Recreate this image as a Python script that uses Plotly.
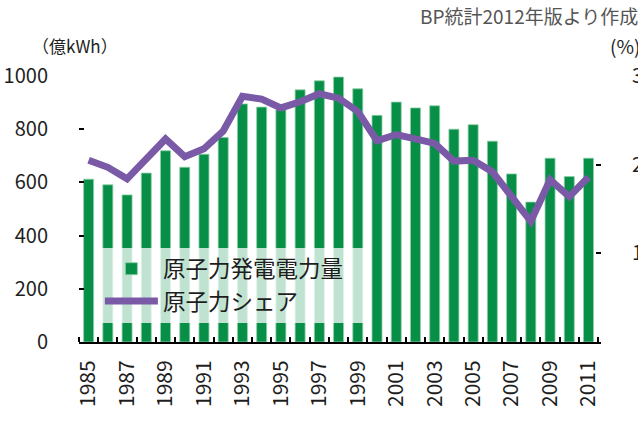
import plotly.graph_objects as go

years = list(range(1985, 2012))
generation = [612, 591, 553, 635, 719, 657, 706, 769, 895, 883,
              873, 948, 982, 996, 952, 852, 902, 880, 888, 800,
              817, 755, 632, 526, 691, 622, 691]
share = [2.05, 1.97, 1.84, 2.06, 2.29, 2.09, 2.18, 2.38, 2.77, 2.74,
         2.64, 2.71, 2.80, 2.75, 2.60, 2.27, 2.34, 2.29, 2.24, 2.04,
         2.05, 1.92, 1.64, 1.36, 1.83, 1.64, 1.86]
xtick_years = list(range(1985, 2012, 2))
left_ticks = [0, 200, 400, 600, 800, 1000]
right_ticks = [1, 2, 3]

FONT = "Noto Sans CJK JP"
GREEN = "#078f47"
PURPLE = "#7a5aa7"
TXT = "#1e1e1e"

fig = go.Figure()
fig.add_trace(go.Bar(
    x=years, y=generation, name="原子力発電電力量\u3000",
    marker=dict(color=GREEN, line=dict(color="#8fcfa8", width=0.8)),
    width=0.52, yaxis="y",
))
fig.add_trace(go.Scatter(
    x=years, y=share, name="原子力シェア", mode="lines",
    line=dict(color=PURPLE, width=7), yaxis="y2",
))

fig.update_layout(
    template="none",
    width=638, height=427,
    margin=dict(l=79, r=37, t=76, b=85, autoexpand=False),
    paper_bgcolor="white", plot_bgcolor="white",
    font=dict(family=FONT, size=20, color=TXT),
    showlegend=True,
    legend=dict(
        x=0.04, y=0.355, xanchor="left", yanchor="top",
        bgcolor="rgba(255,255,255,0.75)", borderwidth=0,
        font=dict(size=22.5, color=TXT),
        itemwidth=53,
    ),
    xaxis=dict(
        automargin=False,
        range=[1984.5, 2011.65],
        tickmode="array", tickvals=xtick_years,
        ticktext=[str(y) for y in xtick_years],
        tickangle=-90, ticks="", ticklabelstandoff=8,
        showline=True, linecolor="black", linewidth=2,
        showgrid=False, zeroline=False,
        minor=dict(ticks="inside", tick0=1984.5, dtick=1, ticklen=5,
                   tickcolor="black", tickwidth=1.5, showgrid=False),
        tickfont=dict(size=21, color=TXT),
    ),
    yaxis=dict(
        automargin=False,
        range=[0, 1000], tickmode="array", tickvals=left_ticks,
        ticks="inside", ticklen=5, tickcolor="black", tickwidth=1.5,
        showline=False, showgrid=False, zeroline=False,
        ticklabelstandoff=30, tickfont=dict(size=20, color=TXT),
    ),
    yaxis2=dict(
        automargin=False,
        range=[0, 3], tickmode="array", tickvals=right_ticks,
        overlaying="y", side="right",
        ticks="inside", ticklen=5, tickcolor="black", tickwidth=1.5,
        showline=False, showgrid=False, zeroline=False,
        ticklabelstandoff=30, tickfont=dict(size=20, color=TXT),
    ),
    annotations=[
        dict(text="（億kWh）", xref="paper", yref="paper",
             x=-0.094, y=1.1165, xanchor="left", yanchor="middle",
             showarrow=False, font=dict(size=17, color=TXT)),
        dict(text="(%)", xref="paper", yref="paper",
             x=1.0134, y=1.1165, xanchor="left", yanchor="middle",
             showarrow=False, font=dict(size=19, color=TXT)),
        dict(text="BP統計2012年版より作成", xref="paper", yref="paper",
             x=0.649, y=1.229, xanchor="left", yanchor="middle",
             showarrow=False, font=dict(size=19, color="#555555")),
    ],
)

fig.write_html("out.html",
               config={"displayModeBar": False},
               post_script="document.body.style.margin='0px';")
